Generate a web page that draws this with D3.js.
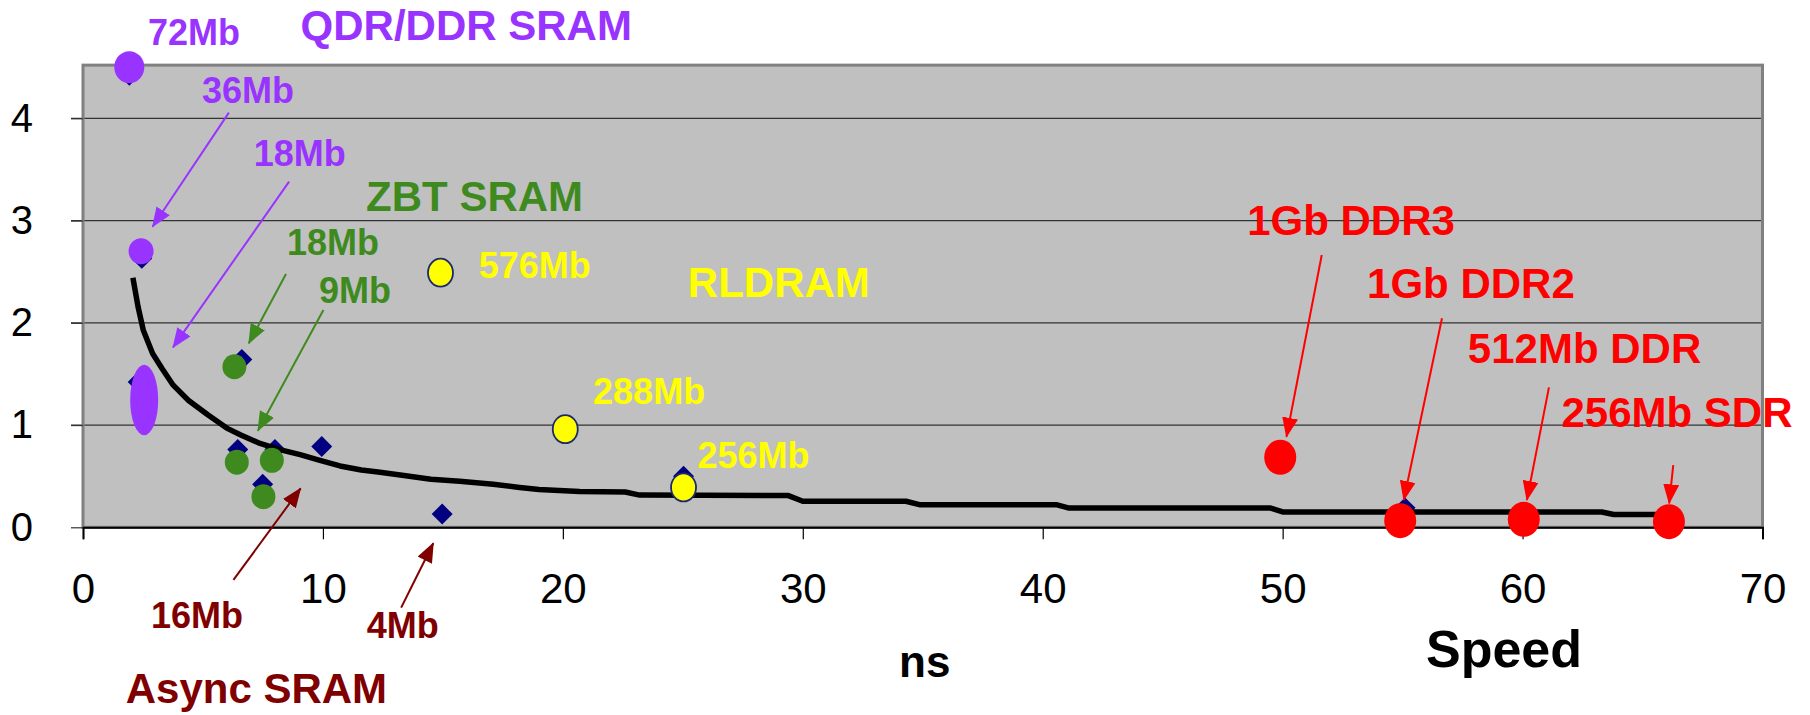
<!DOCTYPE html>
<html>
<head>
<meta charset="utf-8">
<script src="https://cdn.jsdelivr.net/npm/d3@7"></script>
<style>
  body { margin: 0; background: #fff; }
  svg text { font-family: "Liberation Sans", Arial, sans-serif; }
</style>
</head>
<body>
<div id="chart"></div>
<script>
// ---- data ----
const xTicks = [0, 10, 20, 30, 40, 50, 60, 70];
const yTicks = [0, 1, 2, 3, 4];

// navy diamond series: [ns, value]
const diamondPoints = [
  [1.93, 4.42], [2.45, 2.63], [2.3, 1.42],
  [6.62, 1.64], [6.45, 0.76], [8.0, 0.76], [7.49, 0.42],
  [9.95, 0.79], [14.97, 0.13], [25.03, 0.50], [55.1, 0.19]
];

// fitted curve as drawn
const trendPoints = [
  [2.08, 2.44], [2.3, 2.15], [2.51, 1.93], [2.9, 1.7], [3.3, 1.55], [3.76, 1.39],
  [4.4, 1.24], [5.2, 1.1], [5.99, 0.97], [6.6, 0.9], [7.38, 0.82], [8.2, 0.76],
  [9.05, 0.71], [9.8, 0.66], [10.71, 0.6], [11.6, 0.56], [12.3, 0.54], [13.3, 0.51],
  [14.5, 0.47], [15.7, 0.45], [17.1, 0.42], [18.2, 0.39], [19.0, 0.37], [20.7, 0.35],
  [22.6, 0.345], [23.2, 0.315], [29.4, 0.31], [30.0, 0.255], [34.3, 0.255],
  [34.9, 0.22], [40.6, 0.22], [41.1, 0.188], [49.5, 0.188], [50.0, 0.15],
  [63.3, 0.15], [63.8, 0.125], [66.0, 0.125]
];

// highlight circles: [ns, value]
const qdrPoints    = [[1.93, 4.5], [2.42, 2.70]];
const qdrRange     = [2.55, 0.90, 1.59];   // x, low, high (18Mb band)
const zbtPoints    = [[6.31, 1.57], [6.41, 0.636], [7.87, 0.655], [7.52, 0.30]];
const rldramPoints = [[14.9, 2.49], [20.1, 0.96], [25.03, 0.39]];
const dramPoints   = [[49.9, 0.685], [54.9, 0.065], [60.05, 0.078], [66.1, 0.055]];

// labels: [text, x, y, group, size]
const labels = [
  ["72Mb", 2.71, 4.72, "qdr", "small"],
  ["QDR/DDR SRAM", 9.07, 4.77, "qdr", "big"],
  ["36Mb", 4.96, 4.15, "qdr", "small"],
  ["18Mb", 7.12, 3.53, "qdr", "small"],
  ["ZBT SRAM", 11.8, 3.09, "zbt", "big"],
  ["18Mb", 8.5, 2.66, "zbt", "small"],
  ["9Mb", 9.84, 2.19, "zbt", "small"],
  ["576Mb", 16.49, 2.435, "rl", "small"],
  ["RLDRAM", 25.21, 2.25, "rl", "big"],
  ["288Mb", 21.26, 1.206, "rl", "small"],
  ["256Mb", 25.61, 0.577, "rl", "small"],
  ["1Gb DDR3", 48.52, 2.86, "dram", "big"],
  ["1Gb DDR2", 53.52, 2.24, "dram", "big"],
  ["512Mb DDR", 57.72, 1.61, "dram", "big"],
  ["256Mb SDR", 61.62, 0.984, "dram", "big"],
  ["16Mb", 2.83, -0.988, "async", "small"],
  ["4Mb", 11.83, -1.086, "async", "small"],
  ["Async SRAM", 1.78, -1.72, "async", "big"]
];

// arrows: [x1, y1, x2, y2, group]
const arrows = [
  [6.08, 4.055, 2.90, 2.94, "qdr"],
  [8.59, 3.38, 3.75, 1.76, "qdr"],
  [8.46, 2.477, 6.91, 1.80, "zbt"],
  [10.02, 2.125, 7.29, 0.945, "zbt"],
  [6.27, -0.515, 9.07, 0.381, "async"],
  [13.26, -0.786, 14.60, -0.156, "async"],
  [51.63, 2.663, 50.16, 0.886, "dram"],
  [56.64, 2.044, 55.05, 0.267, "dram"],
  [61.1, 1.369, 60.18, 0.267, "dram"],
  [66.28, 0.609, 66.11, 0.235, "dram"]
];

const colors = {qdr: "#9933FF", zbt: "#3F8A1F", rl: "#FFFF00", dram: "#FF0000", async: "#800000"};

// ---- chart ----
const W = 1810, H = 715;
const svg = d3.select("#chart").append("svg").attr("width", W).attr("height", H);

const x = d3.scaleLinear().domain([0, 70]).range([83, 1762.5]);
const y = d3.scaleLinear().domain([0, 4]).range([527.3, 118.3]);
const yTop = 4.52;

// plot background
svg.append("rect")
  .attr("x", x(0)).attr("y", y(yTop))
  .attr("width", x(70) - x(0)).attr("height", y(0) - y(yTop))
  .attr("fill", "#C0C0C0");

// gridlines
svg.append("g").selectAll("line").data(yTicks.filter(d => d > 0)).join("line")
  .attr("x1", x(0) - 12).attr("x2", x(70))
  .attr("y1", d => y(d)).attr("y2", d => y(d))
  .attr("stroke", "#333").attr("stroke-width", 1.2);

// frame
svg.append("rect")
  .attr("x", x(0)).attr("y", y(yTop))
  .attr("width", x(70) - x(0)).attr("height", y(0) - y(yTop))
  .attr("fill", "none").attr("stroke", "#808080").attr("stroke-width", 3);

// x axis
const xAxis = svg.append("g").attr("transform", `translate(0,${y(0)})`)
  .call(d3.axisBottom(x).tickValues(xTicks).tickSize(12).tickPadding(34).tickFormat(d3.format("d")));
xAxis.select(".domain").attr("stroke", "#000").attr("stroke-width", 2);
xAxis.selectAll(".tick line").attr("stroke", "#000").attr("stroke-width", 1.2);
xAxis.selectAll("text").attr("font-size", 42).attr("fill", "#000")
  .style("font-family", "'Liberation Sans', Arial, sans-serif");

// y axis labels
const yAxis = svg.append("g").attr("transform", `translate(${x(0)},0)`)
  .call(d3.axisLeft(y).tickValues(yTicks).tickSize(12).tickPadding(38).tickFormat(d3.format("d")));
yAxis.select(".domain").remove();
yAxis.selectAll(".tick line").attr("stroke", "#333").attr("stroke-width", 1.2);
yAxis.selectAll("text").attr("font-size", 40).attr("fill", "#000")
  .style("font-family", "'Liberation Sans', Arial, sans-serif");

// diamonds
const diamond = d3.symbol().type(d3.symbolSquare).size(220);
svg.append("g").selectAll("path").data(diamondPoints).join("path")
  .attr("d", diamond)
  .attr("transform", d => `translate(${x(d[0])},${y(d[1])}) rotate(45)`)
  .attr("fill", "#000080");

// trend curve
svg.append("path").datum(trendPoints)
  .attr("d", d3.line().x(d => x(d[0])).y(d => y(d[1])))
  .attr("fill", "none").attr("stroke", "#000").attr("stroke-width", 5.5)
  .attr("stroke-linejoin", "round");

// highlight circles
function circles(data, color, rx, ry, stroke) {
  svg.append("g").selectAll("ellipse").data(data).join("ellipse")
    .attr("cx", d => x(d[0])).attr("cy", d => y(d[1]))
    .attr("rx", rx).attr("ry", ry)
    .attr("fill", color)
    .attr("stroke", stroke || "none").attr("stroke-width", 1.8);
}
circles(qdrPoints.slice(0, 1), colors.qdr, 15, 16);
circles(qdrPoints.slice(1), colors.qdr, 12.5, 13);
svg.append("ellipse")
  .attr("cx", x(qdrRange[0])).attr("cy", (y(qdrRange[1]) + y(qdrRange[2])) / 2)
  .attr("rx", 14).attr("ry", (y(qdrRange[1]) - y(qdrRange[2])) / 2)
  .attr("fill", colors.qdr);
circles(zbtPoints, colors.zbt, 12, 12.5);
circles(rldramPoints, colors.rl, 12.5, 14, "#1a2a6a");
circles(dramPoints, colors.dram, 16, 17.5);

// arrow markers
const defs = svg.append("defs");
Object.entries(colors).forEach(([k, c]) => {
  defs.append("marker")
    .attr("id", "arr-" + k)
    .attr("markerUnits", "userSpaceOnUse")
    .attr("viewBox", "0 0 20 16")
    .attr("markerWidth", 20).attr("markerHeight", 16)
    .attr("refX", 19).attr("refY", 8)
    .attr("orient", "auto")
    .append("path").attr("d", "M0,0 L20,8 L0,16 Z").attr("fill", c);
});

svg.append("g").selectAll("line").data(arrows).join("line")
  .attr("x1", d => x(d[0])).attr("y1", d => y(d[1]))
  .attr("x2", d => x(d[2])).attr("y2", d => y(d[3]))
  .attr("stroke", d => colors[d[4]]).attr("stroke-width", 2)
  .attr("marker-end", d => `url(#arr-${d[4]})`);

// labels
svg.append("g").selectAll("text").data(labels).join("text")
  .attr("x", d => x(d[1])).attr("y", d => y(d[2]))
  .attr("fill", d => colors[d[3]])
  .attr("font-size", d => d[4] === "big" ? 42 : 36)
  .attr("font-weight", "bold")
  .text(d => d[0]);

// axis titles
svg.append("text").attr("x", 899).attr("y", 677)
  .attr("font-size", 44).attr("font-weight", "bold").text("ns");
svg.append("text").attr("x", 1426).attr("y", 667)
  .attr("font-size", 52).attr("font-weight", "bold").text("Speed");
</script>
</body>
</html>
